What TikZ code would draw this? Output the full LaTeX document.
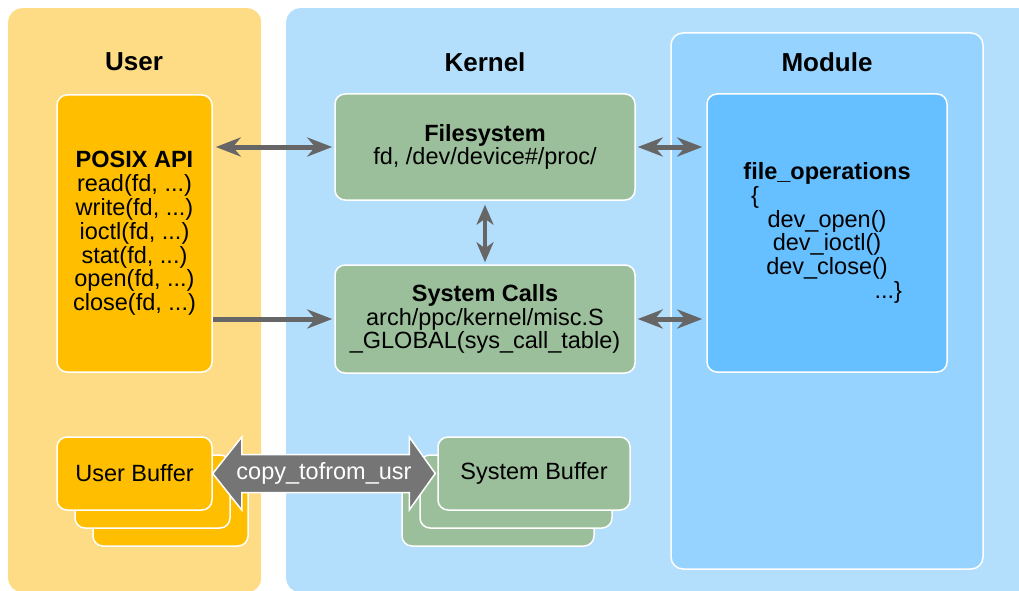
\documentclass[tikz,border=0pt]{standalone}
\usepackage{fontspec}
\setmainfont{Liberation Sans}
\usetikzlibrary{arrows.meta,calc}
\definecolor{userbg}{HTML}{FEDC85}
\definecolor{kernbg}{HTML}{B3DFFD}
\definecolor{modbg}{HTML}{96D3FF}
\definecolor{fopsbg}{HTML}{66BFFF}
\definecolor{amber}{HTML}{FFBF00}
\definecolor{sage}{HTML}{9CBF9B}
\definecolor{arrgray}{HTML}{666666}
\definecolor{fatgray}{HTML}{757575}
\begin{document}
\begin{tikzpicture}[x=1pt,y=-1pt,
  txt/.style={font=\fontsize{23.5}{23.8}\selectfont, align=center},
  ttl/.style={font=\fontsize{26}{28}\selectfont\bfseries},
  panel/.style={rounded corners=14pt, fill=#1, inner sep=0pt, anchor=north west},
  cbox/.style={draw=white, line width=1.5pt, rounded corners=10pt, fill=#1, txt, inner sep=0pt},
  dlink/.style={draw=arrgray, line width=5pt, {Stealth[length=25pt,width=19pt,inset=8pt]}-{Stealth[length=25pt,width=19pt,inset=8pt]}},
  vlink/.style={draw=arrgray, line width=4.5pt, {Stealth[length=20pt,width=17pt,inset=6pt]}-{Stealth[length=20pt,width=17pt,inset=6pt]}},
  slink/.style={draw=arrgray, line width=5pt, -{Stealth[length=25pt,width=19pt,inset=8pt]}},
]
\useasboundingbox (0,0) rectangle (1019,591);
\clip (0,0) rectangle (1019,591);
% panels
\node[panel=userbg, minimum width=253pt, minimum height=584pt] (userp) at (8,8) {};
\node[panel=kernbg, minimum width=760pt, minimum height=584pt] (kernp) at (286,8) {};
\node[draw=white, line width=1.5pt, rounded corners=12pt, fill=modbg, inner sep=0pt,
      minimum width=312pt, minimum height=536pt] (modp) at (827,301) {};
% titles
\node[ttl] (tuser) at (134,62) {User};
\node[ttl] (tkern) at (485,62) {Kernel};
\node[ttl] (tmod) at (827,62) {Module};
% main boxes
\node[cbox=amber, minimum width=155pt, minimum height=277pt] (posix) at (134.5,233.5)
  {\textbf{POSIX API}\\read(fd, ...)\\write(fd, ...)\\ioctl(fd, ...)\\stat(fd, ...)\\open(fd, ...)\\close(fd, ...)};
\node[cbox=sage, minimum width=300pt, minimum height=106pt] (fs) at (485,147)
  {\textbf{Filesystem}\\fd, /dev/device\#/proc/};
\node[cbox=sage, minimum width=300pt, minimum height=108pt] (sc) at (485,319)
  {\textbf{System Calls}\\arch/ppc/kernel/misc.S\\\_GLOBAL(sys\_call\_table)};
\node[cbox=fopsbg, minimum width=240pt, minimum height=278pt] (fops) at (827,233)
  {\textbf{file\_operations}\\\makebox[168pt][l]{\hspace*{8pt}\{}\\dev\_open()\\dev\_ioctl()\\dev\_close()\\\makebox[168pt][r]{...\}\hspace*{9pt}}};
% connectors
\draw[dlink, shorten <=3pt, shorten >=2pt] (posix.east |- fs.west) -- (fs.west);
\draw[slink, shorten >=2pt] (posix.east |- sc.west) -- (sc.west);
\draw[vlink, shorten <=4pt, shorten >=2pt] (fs.south) -- (sc.north);
\draw[dlink, shorten <=2pt, shorten >=4pt] (fs.east) -- (fops.west |- fs.east);
\draw[dlink, shorten <=2pt, shorten >=4pt] (sc.east) -- (fops.west |- sc.east);
% buffers
\node[cbox=amber, minimum width=155pt, minimum height=73pt] (ub2) at (170.5,509.5) {};
\node[cbox=amber, minimum width=155pt, minimum height=73pt] (ub1) at (152.5,491.5) {};
\node[cbox=amber, minimum width=155pt, minimum height=73pt] (ub) at (134.5,473.5) {User Buffer};
\node[cbox=sage, minimum width=192pt, minimum height=73pt] (sb2) at (498,509.5) {};
\node[cbox=sage, minimum width=192pt, minimum height=73pt] (sb1) at (516,491.5) {};
\node[cbox=sage, minimum width=192pt, minimum height=73pt] (sb) at (534,473.5) {System Buffer};
% fat double arrow
\coordinate (fl) at (ub.east);
\coordinate (fr) at ($(sb.west)+(-2,0)$);
\filldraw[fill=fatgray, draw=white, line width=1.5pt, line join=miter]
  (fl) -- ($(fl)+(29,-36.5)$) -- ($(fl)+(29,-19)$) -- ($(fr)+(-26,-19)$) -- ($(fr)+(-26,-36.5)$)
  -- (fr) -- ($(fr)+(-26,36.5)$) -- ($(fr)+(-26,19)$) -- ($(fl)+(29,19)$) -- ($(fl)+(29,36.5)$) -- cycle;
\node[txt, text=white] (copylbl) at ($(fl)!0.5!(fr)$) {copy\_tofrom\_usr};
\end{tikzpicture}
\end{document}
